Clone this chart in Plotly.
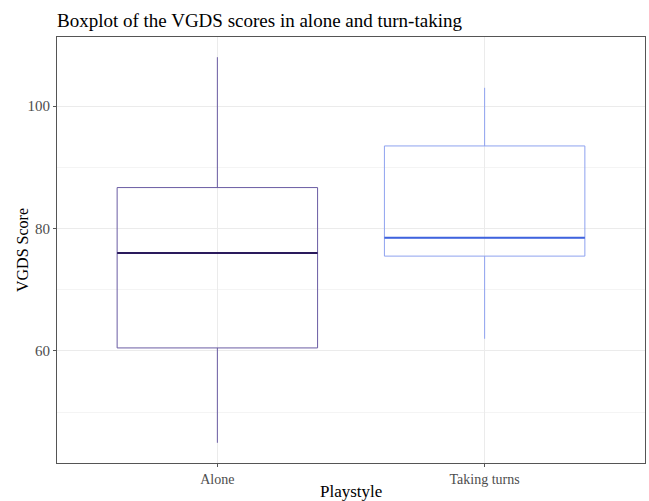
import plotly.graph_objects as go

categories = ["Alone", "Taking turns"]
lower_fence = [45.0, 62.0]
q1 = [60.5, 75.5]
median = [76.0, 78.5]
q3 = [86.7, 93.5]
upper_fence = [108.0, 103.0]

edge_colors = ["#6a5ca3", "#8ea2ef"]
median_colors = ["#2a1a5c", "#3f63de"]

font_family = "Liberation Serif, DejaVu Serif, serif"

W, H = 649, 501
L, R, T, B = 57, 4, 37, 38

fig = go.Figure()
half = 0.375
for i, cat in enumerate(categories):
    fig.add_trace(go.Box(
        x=[i], q1=[q1[i]], median=[median[i]], q3=[q3[i]],
        lowerfence=[lower_fence[i]], upperfence=[upper_fence[i]],
        name=cat, fillcolor="rgba(255,255,255,0)",
        line=dict(color=edge_colors[i], width=1),
        whiskerwidth=0, width=2 * half, boxpoints=False, hoverinfo="skip",
        showlegend=False,
    ))
    fig.add_trace(go.Scatter(
        x=[i - half, i + half], y=[median[i], median[i]], mode="lines",
        line=dict(color=median_colors[i], width=2), hoverinfo="skip",
        showlegend=False,
    ))

fig.update_layout(
    width=W, height=H,
    margin=dict(l=L, r=R, t=T, b=B, autoexpand=False),
    paper_bgcolor="white", plot_bgcolor="white",
    font=dict(family=font_family, color="#4d4d4d"),
    title=dict(text="Boxplot of the VGDS scores in alone and turn-taking",
               x=L / W, xanchor="left", y=1 - 20 / H, yanchor="middle",
               font=dict(size=19, color="black", family=font_family)),
    xaxis=dict(
        range=[-0.6, 1.6], tickvals=[0, 1], ticktext=categories,
        showgrid=True, gridcolor="#ebebeb", gridwidth=1,
        showline=True, mirror=True, linecolor="#555555", linewidth=1,
        ticks="outside", ticklen=3, tickcolor="#555555",
        tickfont=dict(size=14, color="#4d4d4d"),
        automargin=False, zeroline=False,
    ),
    yaxis=dict(
        range=[41.7, 111.3], tickvals=[60, 80, 100],
        showgrid=True, gridcolor="#ebebeb", gridwidth=1,
        minor=dict(tickvals=[50, 70, 90], showgrid=True, gridcolor="#f4f4f4", gridwidth=1),
        showline=True, mirror=True, linecolor="#555555", linewidth=1,
        ticks="outside", ticklen=3, tickcolor="#555555",
        tickfont=dict(size=15, color="#4d4d4d"),
        automargin=False, zeroline=False,
    ),
    annotations=[
        dict(text="Playstyle", xref="paper", yref="paper",
             x=0.5, y=-(491 - (H - B)) / (H - T - B), xanchor="center", yanchor="middle",
             showarrow=False, font=dict(size=17, color="black", family=font_family)),
        dict(text="VGDS Score", xref="paper", yref="paper", textangle=-90,
             x=-(L - 22) / (W - L - R), y=0.5, xanchor="center", yanchor="middle",
             showarrow=False, font=dict(size=16, color="black", family=font_family)),
    ],
)

fig.write_html("out.html", config={"displayModeBar": False},
               post_script="document.body.style.margin='0';")
